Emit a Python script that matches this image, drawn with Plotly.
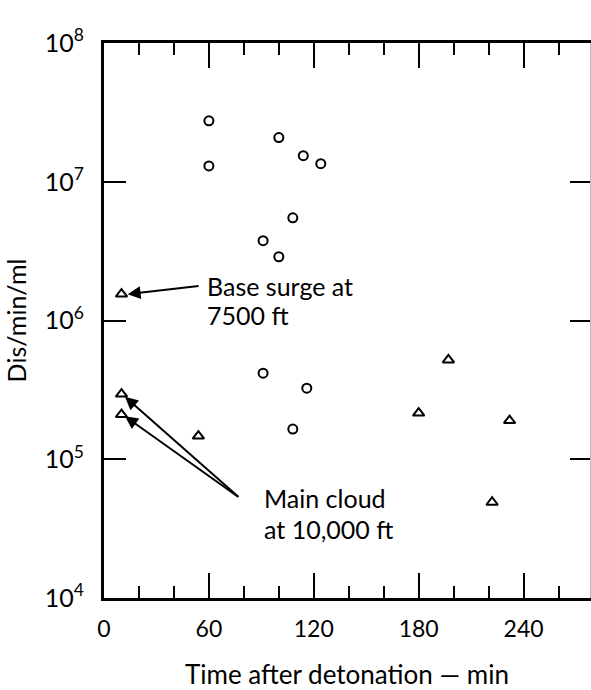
import plotly.graph_objects as go

# Circles (one series)
circle_x = [60, 60, 100, 114, 124, 108, 91, 100, 91, 108, 116]
circle_y = [2.75e7, 1.3e7, 2.08e7, 1.54e7, 1.35e7, 5.5e6, 3.76e6, 2.88e6, 4.17e5, 1.65e5, 3.25e5]

# Triangles (other series)
tri_x = [10, 10, 10, 54, 197, 180, 232, 222]
tri_y = [1.55e6, 2.95e5, 2.1e5, 1.47e5, 5.2e5, 2.15e5, 1.9e5, 4.9e4]

x_tickvals = [0, 60, 120, 180, 240]
y_tickvals = [1e4, 1e5, 1e6, 1e7, 1e8]
y_ticktext = ["10<sup>4</sup>", "10<sup>5</sup>", "10<sup>6</sup>", "10<sup>7</sup>", "10<sup>8</sup>"]

FONT = "Lato"

fig = go.Figure()
fig.add_trace(go.Scatter(
    x=circle_x, y=circle_y, mode="markers",
    marker=dict(symbol="circle-open", size=9, color="black", line=dict(width=2, color="black")),
    showlegend=False, cliponaxis=False))
fig.add_trace(go.Scatter(
    x=tri_x, y=tri_y, mode="markers",
    marker=dict(symbol="triangle-up-open", size=10, color="black", line=dict(width=2, color="black")),
    showlegend=False, cliponaxis=False))
# invisible trace for right axis
fig.add_trace(go.Scatter(x=[0], y=[1e4], yaxis="y2", mode="markers",
                         marker=dict(opacity=0), showlegend=False, hoverinfo="skip"))

fig.update_layout(
    width=591, height=690, autosize=False,
    margin=dict(l=104, r=1, t=43, b=92),
    paper_bgcolor="white", plot_bgcolor="white",
    font=dict(family=FONT, color="black"),
    xaxis=dict(
        range=[0, 278], tickvals=x_tickvals, ticks="inside", ticklen=25, tickwidth=2,
        tickcolor="black", showline=True, linecolor="black", linewidth=3, mirror="ticks",
        showgrid=False, zeroline=False, tickfont=dict(size=23, family=FONT),
        ticklabelstandoff=8, automargin=False,
        minor=dict(dtick=20, ticks="inside", ticklen=12, tickwidth=2, tickcolor="black", showgrid=False),
        title=dict(text="Time after detonation — min", font=dict(size=26, family=FONT), standoff=27),
    ),
    yaxis=dict(
        type="log", range=[4, 8], tickvals=y_tickvals, ticktext=y_ticktext,
        ticks="inside", ticklen=22, tickwidth=2, tickcolor="black",
        showline=True, linecolor="black", linewidth=3, mirror=False,
        showgrid=False, zeroline=False, tickfont=dict(size=25, family=FONT),
        ticklabelstandoff=12, automargin=False,
        title=dict(text="Dis/min/ml", font=dict(size=25, family=FONT), standoff=12),
    ),
    yaxis2=dict(
        type="log", range=[4, 8], tickvals=y_tickvals, overlaying="y", side="right",
        ticks="inside", ticklen=20, tickwidth=2, tickcolor="black", showticklabels=False,
        showline=True, linecolor="#bbbbbb", linewidth=1, showgrid=False, zeroline=False,
        automargin=False,
    ),
)

# Annotations (log axis -> log10 coordinates)
fig.add_annotation(x=13.5, y=6.19, ax=55, ay=6.25, xref="x", yref="y", axref="x", ayref="y",
                   showarrow=True, arrowhead=2, arrowsize=1.3, arrowwidth=2, arrowcolor="black", text="")
fig.add_annotation(x=12, y=5.45, ax=77.7, ay=4.72, xref="x", yref="y", axref="x", ayref="y",
                   showarrow=True, arrowhead=2, arrowsize=1.3, arrowwidth=2, arrowcolor="black", text="")
fig.add_annotation(x=12, y=5.31, ax=77.7, ay=4.72, xref="x", yref="y", axref="x", ayref="y",
                   showarrow=True, arrowhead=2, arrowsize=1.3, arrowwidth=2, arrowcolor="black", text="")
fig.add_shape(type="line", x0=77.7, x1=90, y0=4.72, y1=4.72, xref="x", yref="y",
              line=dict(color="black", width=2))

fig.add_annotation(x=58, y=6.25, xref="x", yref="y", text="Base surge at", showarrow=False,
                   xanchor="left", yanchor="middle", font=dict(size=25, family=FONT))
fig.add_annotation(x=58, y=6.04, xref="x", yref="y", text="7500 ft", showarrow=False,
                   xanchor="left", yanchor="middle", font=dict(size=25, family=FONT))
fig.add_annotation(x=90.5, y=4.72, xref="x", yref="y", text="Main cloud", showarrow=False,
                   xanchor="left", yanchor="middle", font=dict(size=25, family=FONT))
fig.add_annotation(x=90.5, y=4.495, xref="x", yref="y", text="at 10,000 ft", showarrow=False,
                   xanchor="left", yanchor="middle", font=dict(size=25, family=FONT))

fig.write_html("out.html", config={"displayModeBar": False},
               post_script="document.body.style.margin='0';document.body.style.overflow='hidden';")
